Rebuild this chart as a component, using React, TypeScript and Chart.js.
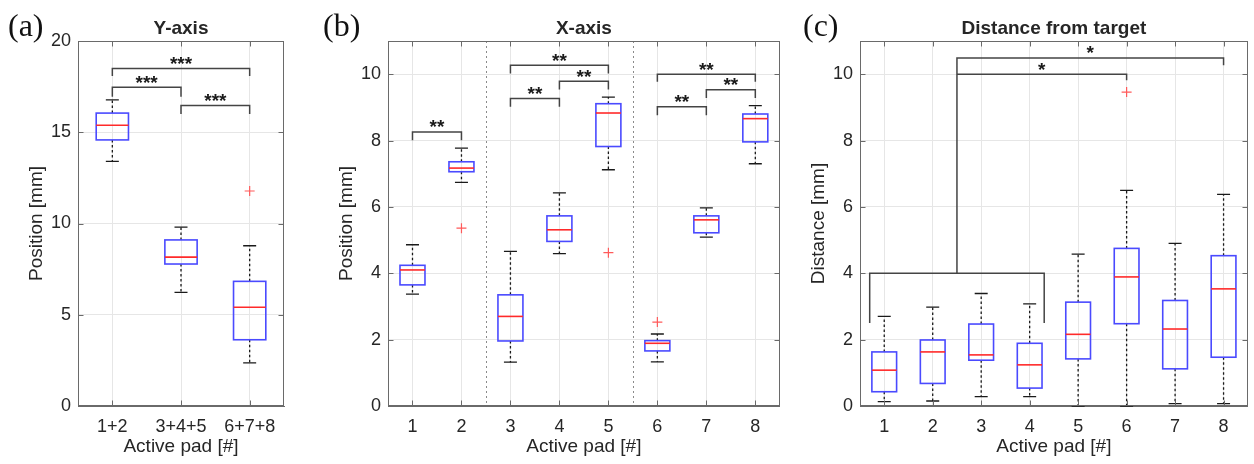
import React, { useEffect, useRef } from 'react';
import { Chart, registerables } from 'chart.js';

Chart.register(...registerables);

// ---------- Panel (a): Y-axis ----------
const aLabels = ['1+2', '3+4+5', '6+7+8'];
const aWhiskerLow = [13.4, 6.23, 2.36];
const aQ1 = [14.58, 7.78, 3.63];
const aMedian = [15.38, 8.16, 5.41];
const aQ3 = [16.05, 9.1, 6.83];
const aWhiskerHigh = [16.77, 9.8, 8.78];
const aOutliers = [{ x: 3, y: 11.78 }];
const aYTicks = [0, 5, 10, 15, 20];
const aBrackets = [
  { path: [[1, 18.08], [1, 18.5], [3, 18.5], [3, 18.08]], label: '***', at: [2, 18.5] },
  { path: [[1, 16.95], [1, 17.46], [2, 17.46], [2, 16.95]], label: '***', at: [1.5, 17.46] },
  { path: [[2, 16.0], [2, 16.47], [3, 16.47], [3, 16.0]], label: '***', at: [2.5, 16.47] },
];

// ---------- Panel (b): X-axis ----------
const bLabels = ['1', '2', '3', '4', '5', '6', '7', '8'];
const bWhiskerLow = [3.37, 6.74, 1.32, 4.59, 7.12, 1.33, 5.09, 7.3];
const bQ1 = [3.65, 7.06, 1.96, 4.96, 7.82, 1.66, 5.22, 7.96];
const bMedian = [4.1, 7.17, 2.7, 5.31, 8.83, 1.89, 5.61, 8.66];
const bQ3 = [4.24, 7.36, 3.35, 5.73, 9.11, 1.97, 5.73, 8.8];
const bWhiskerHigh = [4.86, 7.77, 4.66, 6.42, 9.31, 2.17, 5.97, 9.05];
const bOutliers = [{ x: 2, y: 5.36 }, { x: 5, y: 4.62 }, { x: 6, y: 2.53 }];
const bSeparators = [2.5, 5.5];
const bYTicks = [0, 2, 4, 6, 8, 10];
const bBrackets = [
  { path: [[1, 8.01], [1, 8.26], [2, 8.26], [2, 8.01]], label: '**', at: [1.5, 8.26] },
  { path: [[3, 10.02], [3, 10.27], [5, 10.27], [5, 10.02]], label: '**', at: [4, 10.27] },
  { path: [[4, 9.54], [4, 9.79], [5, 9.79], [5, 9.54]], label: '**', at: [4.5, 9.79] },
  { path: [[3, 9.02], [3, 9.27], [4, 9.27], [4, 9.02]], label: '**', at: [3.5, 9.27] },
  { path: [[6, 9.77], [6, 10.0], [8, 10.0], [8, 9.77]], label: '**', at: [7, 10.0] },
  { path: [[7, 9.28], [7, 9.53], [8, 9.53], [8, 9.28]], label: '**', at: [7.5, 9.53] },
  { path: [[6, 8.76], [6, 9.02], [7, 9.02], [7, 8.76]], label: '**', at: [6.5, 9.02] },
];

// ---------- Panel (c): Distance from target ----------
const cLabels = ['1', '2', '3', '4', '5', '6', '7', '8'];
const cWhiskerLow = [0.13, 0.15, 0.28, 0.28, 0, 0, 0.07, 0.07];
const cQ1 = [0.43, 0.68, 1.38, 0.54, 1.42, 2.48, 1.12, 1.47];
const cMedian = [1.08, 1.63, 1.54, 1.24, 2.16, 3.89, 2.32, 3.53];
const cQ3 = [1.63, 1.99, 2.47, 1.89, 3.13, 4.75, 3.18, 4.53];
const cWhiskerHigh = [2.7, 2.98, 3.39, 3.08, 4.58, 6.5, 4.9, 6.38];
const cOutliers = [{ x: 6, y: 9.46 }];
const cYTicks = [0, 2, 4, 6, 8, 10];
const cBrackets = [
  { path: [[0.7, 2.5], [0.7, 4.0], [4.3, 4.0], [4.3, 2.5]], label: '', at: [2.5, 4.0] },
  { path: [[2.5, 4.0], [2.5, 10.49], [8, 10.49], [8, 10.27]], label: '*', at: [5.25, 10.49] },
  { path: [[2.5, 10.0], [6, 10.0], [6, 9.82]], label: '*', at: [4.25, 10.0] },
];

const FONT = '"Liberation Sans", Arial, Helvetica, sans-serif';
const TEXT = '#262626';
const AXIS = '#6a6a6a';
const GRID = '#e6e6e6';

type Bracket = { path: number[][]; label: string; at: number[] };
type Panel = {
  tag: string;
  title: string;
  yTitle: string;
  labels: string[];
  lo: number[];
  q1: number[];
  med: number[];
  q3: number[];
  hi: number[];
  outliers: { x: number; y: number }[];
  yMax: number;
  yTicks: number[];
  brackets: Bracket[];
  separators: number[];
  left: number;
  width: number;
  padRight: number;
  boxWidth: number;
  tagX: number;
};

const panels: Panel[] = [
  {
    tag: '(a)', title: 'Y-axis', yTitle: 'Position [mm]', labels: aLabels,
    lo: aWhiskerLow, q1: aQ1, med: aMedian, q3: aQ3, hi: aWhiskerHigh, outliers: aOutliers,
    yMax: 20, yTicks: aYTicks, brackets: aBrackets, separators: [],
    left: 0, width: 300, padRight: 16, boxWidth: 0.47, tagX: 8,
  },
  {
    tag: '(b)', title: 'X-axis', yTitle: 'Position [mm]', labels: bLabels,
    lo: bWhiskerLow, q1: bQ1, med: bMedian, q3: bQ3, hi: bWhiskerHigh, outliers: bOutliers,
    yMax: 11, yTicks: bYTicks, brackets: bBrackets, separators: bSeparators,
    left: 310, width: 476, padRight: 4, boxWidth: 0.51, tagX: 13,
  },
  {
    tag: '(c)', title: 'Distance from target', yTitle: 'Distance [mm]', labels: cLabels,
    lo: cWhiskerLow, q1: cQ1, med: cMedian, q3: cQ3, hi: cWhiskerHigh, outliers: cOutliers,
    yMax: 11, yTicks: cYTicks, brackets: cBrackets, separators: [],
    left: 782, width: 472, padRight: 1, boxWidth: 0.51, tagX: 21,
  },
];

function makePlugin(p: Panel) {
  return {
    id: 'boxplotPanel',
    beforeDatasetsDraw(chart: any) {
      const { ctx, chartArea: ca, scales } = chart;
      const xs = scales.x;
      ctx.save();
      ctx.strokeStyle = '#8a8a8a';
      ctx.lineWidth = 1;
      ctx.setLineDash([2, 3]);
      p.separators.forEach((s) => {
        const px = Math.round(xs.getPixelForValue(s)) + 0.5;
        ctx.beginPath();
        ctx.moveTo(px, ca.top);
        ctx.lineTo(px, ca.bottom);
        ctx.stroke();
      });
      ctx.restore();
    },
    afterDatasetsDraw(chart: any) {
      const { ctx, scales } = chart;
      const xs = scales.x;
      const ys = scales.y;
      const unit = xs.getPixelForValue(2) - xs.getPixelForValue(1);
      const half = (unit * p.boxWidth) / 2;
      const cap = 6.5;
      ctx.save();
      p.labels.forEach((_, i) => {
        const cx = xs.getPixelForValue(i + 1);
        const yLo = ys.getPixelForValue(p.lo[i]);
        const yQ1 = ys.getPixelForValue(p.q1[i]);
        const yMed = ys.getPixelForValue(p.med[i]);
        const yQ3 = ys.getPixelForValue(p.q3[i]);
        const yHi = ys.getPixelForValue(p.hi[i]);
        // whisker stems
        ctx.strokeStyle = '#1a1a1a';
        ctx.lineWidth = 1.3;
        ctx.setLineDash([2.5, 2.5]);
        ctx.beginPath();
        ctx.moveTo(cx, yQ3);
        ctx.lineTo(cx, yHi);
        ctx.moveTo(cx, yQ1);
        ctx.lineTo(cx, yLo);
        ctx.stroke();
        ctx.setLineDash([]);
        // caps
        ctx.beginPath();
        ctx.moveTo(cx - cap, yHi);
        ctx.lineTo(cx + cap, yHi);
        ctx.moveTo(cx - cap, yLo);
        ctx.lineTo(cx + cap, yLo);
        ctx.stroke();
        // box
        ctx.strokeStyle = '#4a4aff';
        ctx.lineWidth = 1.6;
        ctx.strokeRect(cx - half, yQ3, half * 2, yQ1 - yQ3);
        // median
        ctx.strokeStyle = '#ff2a2a';
        ctx.lineWidth = 1.6;
        ctx.beginPath();
        ctx.moveTo(cx - half, yMed);
        ctx.lineTo(cx + half, yMed);
        ctx.stroke();
      });
      // brackets
      ctx.strokeStyle = '#444444';
      ctx.lineWidth = 1.5;
      p.brackets.forEach((b) => {
        ctx.beginPath();
        b.path.forEach((pt, k) => {
          const px = xs.getPixelForValue(pt[0]);
          const py = ys.getPixelForValue(pt[1]);
          if (k === 0) ctx.moveTo(px, py);
          else ctx.lineTo(px, py);
        });
        ctx.stroke();
        if (b.label) {
          ctx.fillStyle = '#1a1a1a';
          ctx.font = `bold 19px ${FONT}`;
          ctx.textAlign = 'center';
          ctx.textBaseline = 'alphabetic';
          ctx.fillText(b.label, xs.getPixelForValue(b.at[0]), ys.getPixelForValue(b.at[1]) + 1.5);
        }
      });
      ctx.restore();
    },
    afterDraw(chart: any) {
      const { ctx, chartArea: ca, scales } = chart;
      ctx.save();
      ctx.strokeStyle = AXIS;
      ctx.lineWidth = 1;
      const l = Math.round(ca.left) + 0.5;
      const r = Math.round(ca.right) - 0.5;
      const t = Math.round(ca.top) + 0.5;
      const bt = Math.round(ca.bottom) - 0.5;
      ctx.strokeRect(l, t, r - l, bt - t);
      ctx.beginPath();
      scales.x.ticks.forEach((tk: any) => {
        const px = Math.round(scales.x.getPixelForValue(tk.value)) + 0.5;
        ctx.moveTo(px, bt);
        ctx.lineTo(px, bt - 5);
        ctx.moveTo(px, t);
        ctx.lineTo(px, t + 5);
      });
      scales.y.ticks.forEach((tk: any) => {
        const py = Math.round(scales.y.getPixelForValue(tk.value)) + 0.5;
        ctx.moveTo(l, py);
        ctx.lineTo(l + 5, py);
        ctx.moveTo(r, py);
        ctx.lineTo(r - 5, py);
      });
      ctx.stroke();
      ctx.fillStyle = '#111111';
      ctx.font = '32px "Liberation Serif", "DejaVu Serif", serif';
      ctx.textAlign = 'left';
      ctx.textBaseline = 'alphabetic';
      ctx.fillText(p.tag, p.tagX, 36);
      ctx.restore();
    },
  };
}

function PanelChart({ p }: { p: Panel }) {
  const ref = useRef<HTMLCanvasElement | null>(null);
  useEffect(() => {
    if (!ref.current) return;
    const n = p.labels.length;
    const chart = new Chart(ref.current, {
      type: 'scatter',
      data: {
        datasets: [
          {
            data: p.outliers,
            pointStyle: 'cross',
            radius: 5,
            borderColor: '#ff5a5a',
            backgroundColor: 'transparent',
            borderWidth: 1.2,
          },
        ],
      },
      options: {
        animation: false,
        responsive: false,
        maintainAspectRatio: false,
        events: [],
        layout: { padding: { left: 0, right: p.padRight, top: 0, bottom: 0 } },
        plugins: {
          legend: { display: false },
          tooltip: { enabled: false },
          title: {
            display: true,
            text: p.title,
            fullSize: false,
            color: TEXT,
            font: { family: FONT, size: 19, weight: 'bold' },
            padding: { top: 17.4, bottom: 0.8 },
          },
        },
        scales: {
          x: {
            type: 'linear',
            min: 0.5,
            max: n + 0.5,
            afterBuildTicks: (s: any) => {
              s.ticks = p.labels.map((_, i) => ({ value: i + 1 }));
            },
            afterFit: (s: any) => {
              s.height = 58;
            },
            ticks: {
              autoSkip: false,
              maxRotation: 0,
              padding: 10,
              color: TEXT,
              font: { family: FONT, size: 18 },
              callback: (v: any) => p.labels[Math.round(Number(v)) - 1],
            },
            grid: { color: GRID, drawTicks: false },
            border: { color: AXIS, width: 1 },
            title: {
              display: true,
              text: 'Active pad [#]',
              color: TEXT,
              font: { family: FONT, size: 19 },
              padding: { top: 0, bottom: 6 },
            },
          },
          y: {
            type: 'linear',
            min: 0,
            max: p.yMax,
            afterBuildTicks: (s: any) => {
              s.ticks = p.yTicks.map((v) => ({ value: v }));
            },
            afterFit: (s: any) => {
              s.width = 78;
            },
            ticks: {
              padding: 7,
              color: TEXT,
              font: { family: FONT, size: 18 },
            },
            grid: { color: GRID, drawTicks: false },
            border: { color: AXIS, width: 1 },
            title: {
              display: true,
              text: p.yTitle,
              color: TEXT,
              font: { family: FONT, size: 19 },
              padding: { top: 25, bottom: 0 },
            },
          },
        },
      } as any,
      plugins: [makePlugin(p)],
    });
    return () => chart.destroy();
  }, [p]);
  return (
    <canvas
      ref={ref}
      width={p.width}
      height={464}
      style={{ position: 'absolute', left: p.left, top: 0, width: p.width, height: 464 }}
    />
  );
}

export default function App() {
  return (
    <div
      style={{
        position: 'fixed',
        left: 0,
        top: 0,
        width: 1254,
        height: 464,
        background: '#ffffff',
        overflow: 'hidden',
      }}
    >
      {panels.map((p) => (
        <PanelChart key={p.tag} p={p} />
      ))}
    </div>
  );
}
